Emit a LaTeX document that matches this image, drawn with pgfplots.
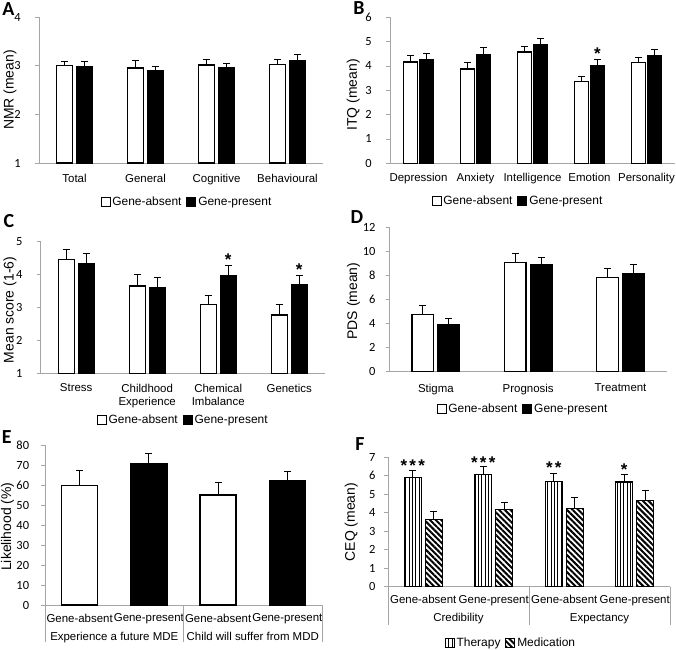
\documentclass[border=0pt]{standalone}
\usepackage{pgfplots}
\pgfplotsset{compat=1.18}
\usepackage{fontspec}
\setmainfont{Liberation Sans}
\newfontfamily\calib{Carlito}
\usetikzlibrary{patterns.meta}
\definecolor{axgray}{RGB}{165,165,165}

\newcommand\labfont{\fontsize{11.5}{14}\selectfont}
\newcommand\tickfont{\calib\fontsize{12.5}{14}\selectfont}
\newcommand\ylabfont{\fontsize{14}{16}\selectfont}
\newcommand\legfont{\fontsize{12}{14}\selectfont}
\newcommand\panfont{\calib\bfseries\fontsize{20}{22}\selectfont}
\newcommand\starfont{\bfseries\fontsize{17}{17}\selectfont}

\pgfplotsset{
  panel/.style={
    scale only axis, anchor=south west,
    axis x line*=bottom, axis y line*=left,
    axis line style={axgray, line width=0.9bp},
    xmin=0.5,
    xtick style={draw=none},
    ytick style={axgray, line width=0.9bp},
    tick align=outside, major tick length=4bp,
    yticklabel style={font=\tickfont, inner sep=0pt, anchor=east},
    xticklabel style={font=\labfont, inner sep=0pt, anchor=north, align=center},
    ylabel style={font=\ylabfont, anchor=center},
    /pgf/number format/assume math mode=true,
    legend columns=2,
    legend style={draw=none, fill=none, font=\legfont, anchor=center, inner sep=0pt,
      /tikz/every even column/.append style={column sep=3bp}},
    legend cell align=left,
    error bars/y dir=plus, error bars/y explicit,
    error bars/error bar style={black, line width=1bp},
    error bars/error mark options={rotate=90, black, line width=1bp, mark size=3.5bp},
    clip mode=individual,
  },
  sqleg/.style={legend image code/.code={\draw[##1, line width=0.8bp] (0bp,-4.5bp) rectangle (9bp,4.5bp);}},
  wbar/.style={fill=white, draw=black, line width=1.4bp, sqleg},
  kbar/.style={fill=black, draw=black, line width=1.4bp, sqleg},
  ther/.style={draw=black, line width=1.2bp, pattern={Lines[angle=90,distance=3.3bp,line width=1bp]}, sqleg},
  med/.style={draw=black, line width=1.2bp, pattern={Lines[angle=-45,distance=4bp,line width=2bp]}, sqleg},
}

\begin{document}
\begin{tikzpicture}

% ---- A ----
\begin{axis}[panel, at={(39bp,-163bp)}, width=284bp, height=146bp,
  ybar=4bp, bar width=16bp,
  xmax=4.5, ymin=1, ymax=4, ytick={1,2,3,4},
  xtick={1,2,3,4}, xticklabels={Total,General,Cognitive,Behavioural},
  xticklabel style={yshift=-6.8bp}, yticklabel style={xshift=-14bp},
  ylabel={NMR (mean)}, ylabel style={at={(axis description cs:-0.102,0.5)}},
  legend style={at={(0.521,-0.267)}}]
\addplot[wbar] coordinates {
  (1,3.00) += (0,0.09) (2,2.95) += (0,0.15) (3,3.01) += (0,0.11) (4,3.03) += (0,0.10)};
\addlegendentry{Gene-absent}
\addplot[kbar] coordinates {
  (1,2.98) += (0,0.10) (2,2.89) += (0,0.10) (3,2.95) += (0,0.09) (4,3.10) += (0,0.12)};
\addlegendentry{Gene-present}
\end{axis}

% ---- B ----
\begin{axis}[panel, at={(390bp,-163.3bp)}, width=285bp, height=146bp,
  ybar=2bp, bar width=14bp,
  xmax=5.5, ymin=0, ymax=6, ytick={0,...,6},
  xtick={1,...,5}, xticklabels={Depression,Anxiety,Intelligence,Emotion,Personality},
  xticklabel style={yshift=-5.2bp}, yticklabel style={xshift=-14bp},
  ylabel={ITQ (mean)}, ylabel style={at={(axis description cs:-0.129,0.468)}},
  legend style={at={(0.449,-0.256)}}]
\addplot[wbar] coordinates {
  (1,4.17) += (0,0.25) (2,3.87) += (0,0.28) (3,4.57) += (0,0.25) (4,3.36) += (0,0.19) (5,4.15) += (0,0.21)};
\addlegendentry{Gene-absent}
\addplot[kbar] coordinates {
  (1,4.25) += (0,0.25) (2,4.46) += (0,0.29) (3,4.88) += (0,0.25) (4,4.03) += (0,0.23) (5,4.41) += (0,0.28)};
\addlegendentry{Gene-present}
\node[font=\starfont, anchor=base, xshift=8bp, yshift=-10bp] at (axis cs:4,4.68) {*};
\end{axis}

% ---- C ----
\begin{axis}[panel, at={(40.7bp,-373.3bp)}, width=284bp, height=131.6bp,
  ybar=4bp, bar width=16bp,
  xmax=4.5, ymin=1, ymax=5, ytick={1,...,5},
  xtick={1,2,3,4}, xticklabels={Stress,Childhood\\Experience,Chemical\\Imbalance,Genetics},
  xticklabel style={yshift=-6.2bp}, yticklabel style={xshift=-14bp},
  ylabel={Mean score (1-6)}, ylabel style={at={(axis description cs:-0.108,0.481)}},
  legend style={at={(0.502,-0.355)}}]
\addplot[wbar] coordinates {
  (1,4.46) += (0,0.29) (2,3.65) += (0,0.34) (3,3.10) += (0,0.27) (4,2.77) += (0,0.31)};
\addlegendentry{Gene-absent}
\addplot[kbar] coordinates {
  (1,4.34) += (0,0.31) (2,3.59) += (0,0.32) (3,3.97) += (0,0.30) (4,3.68) += (0,0.29)};
\addlegendentry{Gene-present}
\node[font=\starfont, anchor=base, xshift=10bp, yshift=-10bp] at (axis cs:3,4.57) {*};
\node[font=\starfont, anchor=base, xshift=10bp, yshift=-10bp] at (axis cs:4,4.29) {*};
\end{axis}

% ---- D ----
\begin{axis}[panel, at={(389.7bp,-371.7bp)}, width=277bp, height=144bp,
  ybar=4.5bp, bar width=21.5bp,
  xmax=3.5, ymin=0, ymax=12, ytick={0,2,...,12},
  xtick={1,2,3}, xticklabels={Stigma,Prognosis,Treatment},
  xticklabel style={yshift=-7.8bp}, yticklabel style={xshift=-10bp},
  ylabel={PDS (mean)}, ylabel style={at={(axis description cs:-0.131,0.49)}},
  legend style={at={(0.481,-0.259)}}]
\addplot[wbar] coordinates {
  (1,4.78) += (0,0.72) (2,9.11) += (0,0.75) (3,7.86) += (0,0.70)};
\addlegendentry{Gene-absent}
\addplot[kbar] coordinates {
  (1,3.89) += (0,0.55) (2,8.89) += (0,0.61) (3,8.14) += (0,0.83)};
\addlegendentry{Gene-present}
\end{axis}

% ---- E ----
\begin{axis}[panel, at={(45bp,-605bp)}, width=277bp, height=160bp,
  ybar=0bp, bar width=36bp,
  xmax=4.5, ymin=0, ymax=80, ytick={0,10,...,80},
  xtick={1,2,3,4}, xticklabels={Gene-absent,Gene-present,Gene-absent,Gene-present},
  xticklabel style={yshift=-4.5bp}, yticklabel style={xshift=-11.7bp},
  ylabel={Likelihood (\%)}, ylabel style={at={(axis description cs:-0.135,0.49)}}]
\addplot[wbar, bar shift=0bp] coordinates {
  (1,59.7) += (0,7.5) (3,55.0) += (0,6.3)};
\addplot[kbar, bar shift=0bp] coordinates {
  (2,70.5) += (0,5.3) (4,62.3) += (0,4.5)};
\draw[axgray, line width=0.9bp] (axis cs:0.5,0) -- ([yshift=-37bp]axis cs:0.5,0);
\draw[axgray, line width=0.9bp] (axis cs:2.5,0) -- ([yshift=-37bp]axis cs:2.5,0);
\draw[axgray, line width=0.9bp] (axis cs:4.5,0) -- ([yshift=-37bp]axis cs:4.5,0);
\node[font=\labfont, anchor=base, yshift=-35.8bp] at (axis cs:1.5,0) {Experience a future MDE};
\node[font=\labfont, anchor=base, yshift=-35.8bp] at (axis cs:3.5,0) {Child will suffer from MDD};
\end{axis}

% ---- F ----
\begin{axis}[panel, at={(388bp,-586.7bp)}, width=282bp, height=129.4bp,
  ybar=4bp, bar width=17bp,
  xmax=4.5, ymin=0, ymax=7, ytick={0,...,7},
  xtick={1,2,3,4}, xticklabels={Gene-absent,Gene-present,Gene-absent,Gene-present},
  xticklabel style={yshift=-4.4bp}, yticklabel style={xshift=-8.3bp},
  ylabel={CEQ (mean)}, ylabel style={at={(axis description cs:-0.130,0.5)}},
  legend style={at={(0.436,-0.437)}}]
\addplot[ther] coordinates {
  (1,5.90) += (0,0.36) (2,6.06) += (0,0.42) (3,5.70) += (0,0.43) (4,5.66) += (0,0.43)};
\addlegendentry{Therapy}
\addplot[med] coordinates {
  (1,3.64) += (0,0.44) (2,4.17) += (0,0.40) (3,4.24) += (0,0.56) (4,4.67) += (0,0.52)};
\addlegendentry{Medication}
\draw[axgray, line width=0.9bp] (axis cs:0.5,0) -- ([yshift=-38bp]axis cs:0.5,0);
\draw[axgray, line width=0.9bp] (axis cs:2.5,0) -- ([yshift=-38bp]axis cs:2.5,0);
\draw[axgray, line width=0.9bp] (axis cs:4.5,0) -- ([yshift=-38bp]axis cs:4.5,0);
\node[font=\labfont, anchor=base, yshift=-35.1bp] at (axis cs:1.5,0) {Credibility};
\node[font=\labfont, anchor=base, yshift=-35.1bp] at (axis cs:3.5,0) {Expectancy};
\node[font=\starfont, anchor=base, xshift=-10.5bp, yshift=-10bp] at (axis cs:1,6.76) {*\kern2.3bp*\kern2.3bp*};
\node[font=\starfont, anchor=base, xshift=-10.5bp, yshift=-10bp] at (axis cs:2,6.94) {*\kern2.3bp*\kern2.3bp*};
\node[font=\starfont, anchor=base, xshift=-10.5bp, yshift=-10bp] at (axis cs:3,6.64) {*\kern2.3bp*};
\node[font=\starfont, anchor=base, xshift=-10.5bp, yshift=-10bp] at (axis cs:4,6.58) {*};
\end{axis}

% panel letters
\node[font=\panfont] at (8.3bp,-9.2bp) {A};
\node[font=\panfont] at (359bp,-8.3bp) {B};
\node[font=\panfont] at (9bp,-221bp) {C};
\node[font=\panfont] at (357bp,-217bp) {D};
\node[font=\panfont] at (6.7bp,-437.5bp) {E};
\node[font=\panfont] at (360bp,-444bp) {F};

\pgfresetboundingbox
\useasboundingbox (0,0) rectangle (676bp,-650bp);
\end{tikzpicture}
\end{document}
